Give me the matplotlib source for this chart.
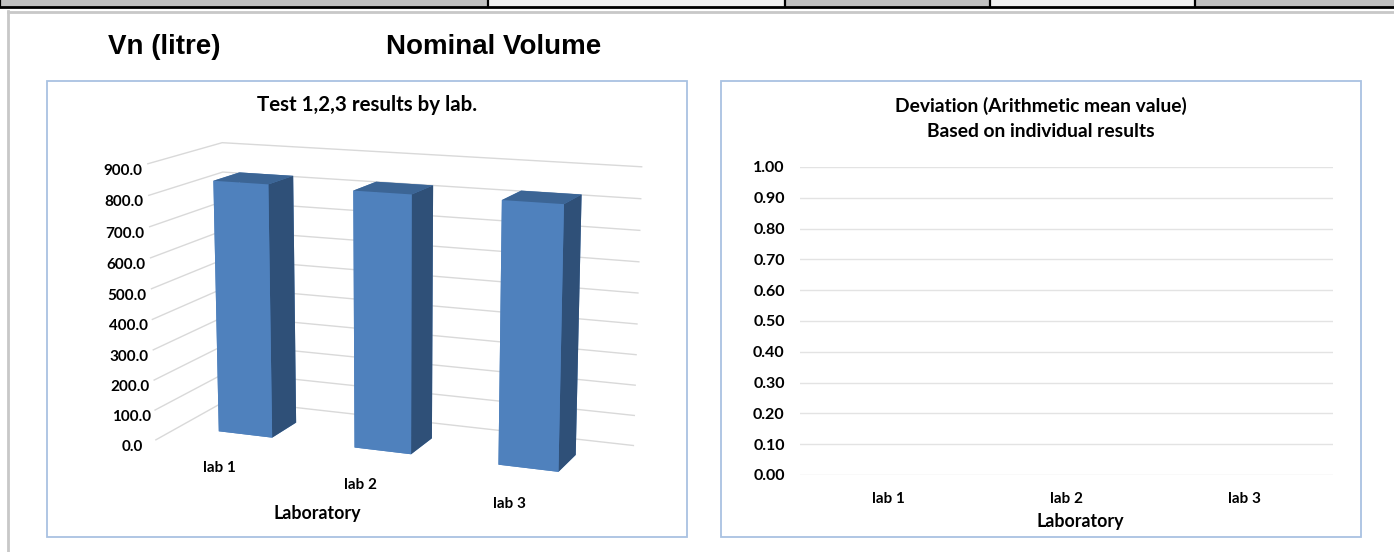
import matplotlib
matplotlib.use("Agg")
import matplotlib.pyplot as plt
import numpy as np
from matplotlib.patches import Rectangle
from matplotlib.lines import Line2D

labs = ["lab 1", "lab 2", "lab 3"]
volume = [831, 829, 830]
deviation = [np.nan, np.nan, np.nan]
vol_ticks = np.arange(0, 901, 100)
dev_ticks = np.arange(0, 1.001, 0.1)

W, H = 1394, 552
plt.rcParams['font.family'] = ['Lato', 'DejaVu Sans']
fig = plt.figure(figsize=(W / 100, H / 100), dpi=100)


def fx(px):
    return px / W


def fy(py):
    return 1 - py / H


def box(x0, y0, x1, y1, fc, ec='none', lw=1.0, z=-1):
    fig.add_artist(Rectangle((fx(x0), fy(y1)), (x1 - x0) / W, (y1 - y0) / H,
                             transform=fig.transFigure, facecolor=fc,
                             edgecolor=ec, linewidth=lw, zorder=z))


def line(xs, ys, color, lw):
    fig.add_artist(Line2D([fx(v) for v in xs], [fy(v) for v in ys],
                          transform=fig.transFigure, color=color, linewidth=lw))


# spreadsheet row cut off at the top
cells = [(0, 488, '#c0c0c0'), (488, 785, '#f2f2f2'), (785, 990, '#c0c0c0'),
         (990, 1195, '#f2f2f2'), (1195, 1394, '#c0c0c0')]
for x0, x1, c in cells:
    box(x0, 0, x1, 7, c)
    line([x0, x0], [0, 7], 'black', 1.6)
line([0, W], [7, 7], 'black', 2.0)
line([8, W], [11.5, 11.5], '#c8c8c8', 2.0)
line([8, 8], [11, H], '#c8c8c8', 2.0)

fig.text(fx(108), fy(47), "Vn (litre)", family='Liberation Sans', weight='bold',
         fontsize=20, va='center', ha='left')
fig.text(fx(386), fy(47), "Nominal Volume", family='Liberation Sans', weight='bold',
         fontsize=20, va='center', ha='left')

# chart frames
box(47, 81, 687, 537, 'white', '#a9c2e2', 1.3)
box(721, 81, 1361, 537, 'white', '#a9c2e2', 1.3)

# ---- left: 3D column chart ----
ax3 = fig.add_axes([fx(73), fy(517), 630 / W, 410 / H], projection='3d')
ax3.set_proj_type('persp', focal_length=0.85)
ax3.view_init(elev=12.9, azim=-68.2)
ax3.set_box_aspect((1.0, 0.356, 0.62), zoom=1.336)
ax3.set_xlim(0.5, 3.5)
ax3.set_ylim(0, 1)
ax3.set_zlim(0, 900)
ax3.patch.set_alpha(0)

xpos = np.arange(1, len(volume) + 1)
bw, bd = 0.40, 0.36
face_cols = ['#4f81bd', '#3c6595', '#4f81bd', '#4f81bd', '#4f81bd', '#2f5078']
for x, v in zip(xpos, volume):
    ax3.bar3d(x - bw / 2, 0.5 - bd / 2, 0, bw, bd, v, color=face_cols, shade=False,
              edgecolor='none')

for axis in (ax3.xaxis, ax3.yaxis, ax3.zaxis):
    axis.set_pane_color((1, 1, 1, 0))
    axis.pane.set_edgecolor((1, 1, 1, 0))
    axis.line.set_color((1, 1, 1, 0))
    axis._axinfo['tick']['inward_factor'] = 0
    axis._axinfo['tick']['outward_factor'] = 0
ax3.xaxis._axinfo['grid']['color'] = (1, 1, 1, 0)
ax3.yaxis._axinfo['grid']['color'] = (1, 1, 1, 0)
ax3.zaxis._axinfo['grid']['color'] = '#d9d9d9'
ax3.zaxis._axinfo['grid']['linewidth'] = 1.0

ax3.set_xticks(xpos)
ax3.set_xticklabels(labs, fontsize=11, fontweight='bold')
ax3.set_yticks([])
ax3.set_zticks(vol_ticks)
ax3.set_zticklabels([f"{t:.1f}" for t in vol_ticks], fontsize=11, fontweight='bold')
ax3.zaxis.set_ticks_position('lower')
ax3.tick_params(axis='x', pad=-2)
ax3.tick_params(axis='z', pad=-0.5)

fig.text(fx(367), fy(105), "Test 1,2,3 results by lab.", fontsize=14.8,
         weight='bold', ha='center', va='center')
fig.text(fx(317), fy(514), "Laboratory", fontsize=12.9, weight='bold',
         ha='center', va='center')

# ---- right: deviation chart (no values yet) ----
ax = fig.add_axes([fx(800), fy(475), 533 / W, 308 / H])
ax.bar(np.arange(len(labs)), deviation, color='#4f81bd', width=0.4)
ax.set_xlim(-0.5, 2.5)
ax.set_ylim(0, 1)
ax.set_yticks(dev_ticks)
ax.set_yticklabels([f"{t:.2f}" for t in dev_ticks], fontsize=11.5, fontweight='bold')
ax.set_xticks(np.arange(len(labs)))
ax.set_xticklabels(labs, fontsize=11, fontweight='bold')
ax.tick_params(length=0)
ax.tick_params(axis='x', pad=12)
ax.tick_params(axis='y', pad=11)
ax.grid(axis='y', color='#e3e3e3', linewidth=1)
ax.set_axisbelow(True)
for s in ax.spines.values():
    s.set_visible(False)
ax.patch.set_alpha(0)

fig.text(fx(1041), fy(106), "Deviation (Arithmetic mean value)", fontsize=13.9,
         weight='bold', ha='center', va='center')
fig.text(fx(1041), fy(131), "Based on individual results", fontsize=13.9,
         weight='bold', ha='center', va='center')
fig.text(fx(1080), fy(521), "Laboratory", fontsize=12.9, weight='bold',
         ha='center', va='center')

fig.savefig("out.png", dpi=100)
